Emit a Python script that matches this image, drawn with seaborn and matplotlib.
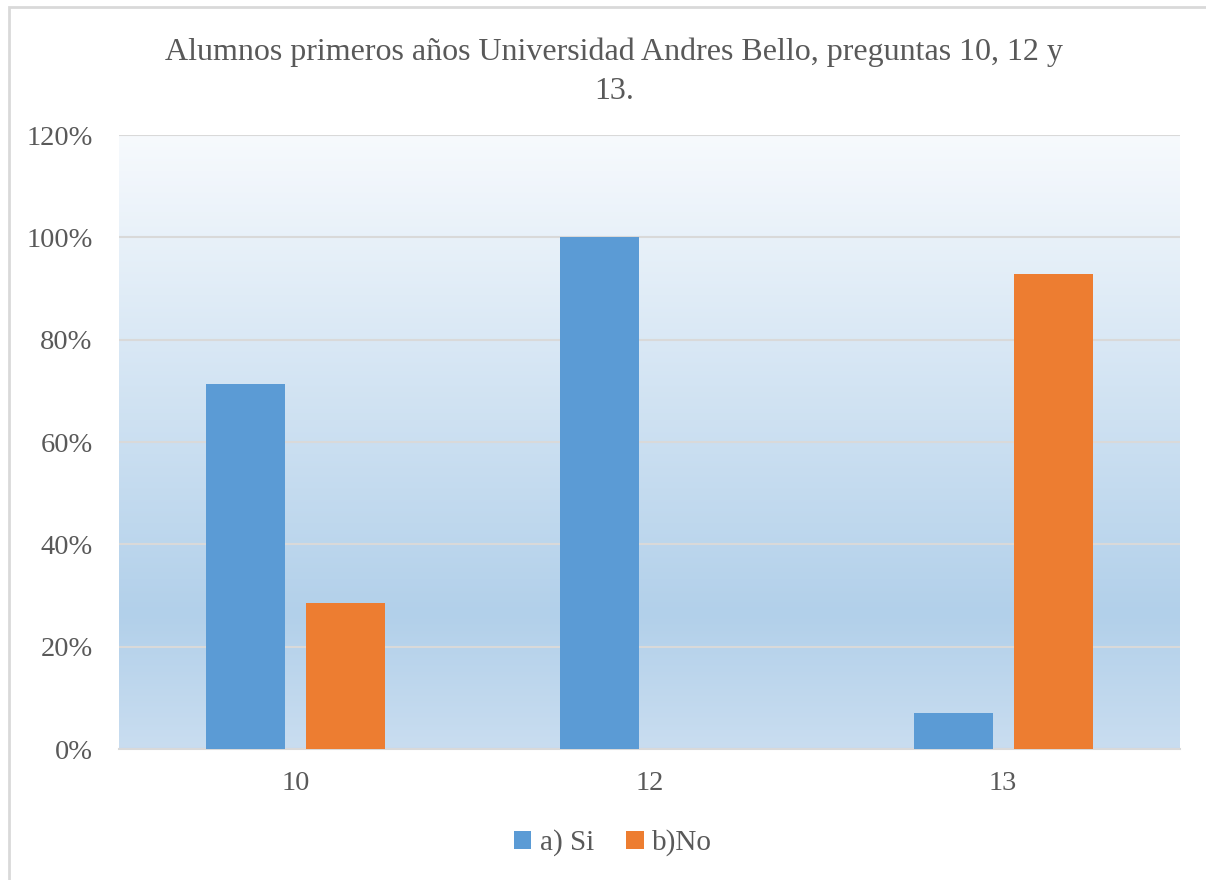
import numpy as np
import pandas as pd
import matplotlib
matplotlib.use("Agg")
import matplotlib.pyplot as plt
from matplotlib.colors import LinearSegmentedColormap
from matplotlib.ticker import PercentFormatter
import seaborn as sns

# data
preguntas = ["10", "12", "13"]
si = [71.4, 100.0, 7.1]
no = [28.6, 0.0, 92.9]
series = ["a) Si", "b)No"]
colores = ["#5B9BD5", "#ED7D31"]
titulo = "Alumnos primeros años Universidad Andres Bello, preguntas 10, 12 y\n13."

df = pd.DataFrame({
    "pregunta": preguntas * 2,
    "valor": si + no,
    "serie": [series[0]] * 3 + [series[1]] * 3,
})

sns.set_style("white")
plt.rcParams["font.family"] = ["Liberation Serif", "DejaVu Serif"]
texto = "#595959"

fig = plt.figure(figsize=(12.06, 8.8), dpi=100)
ax = fig.add_axes([119 / 1206, 1 - 749 / 880, (1180 - 119) / 1206, (749 - 135) / 880])

# gradient background like the Excel style
grad = LinearSegmentedColormap.from_list(
    "fondo", [(0.0, "#c9ddf0"), (0.22, "#b2d0ea"), (1.0, "#f7fafd")])
ax.imshow(np.linspace(0, 1, 256).reshape(-1, 1), cmap=grad, aspect="auto",
          extent=(-0.5, 2.5, 0, 120), origin="lower", zorder=0)

sns.barplot(data=df, x="pregunta", y="valor", hue="serie", palette=colores,
            width=0.566, gap=0.21, ax=ax, zorder=3, legend=True, saturation=1,
            linewidth=0)

ax.set_xlim(-0.5, 2.5)
ax.set_ylim(0, 120)
ax.set_yticks(np.arange(0, 121, 20))
ax.yaxis.set_major_formatter(PercentFormatter(decimals=0))
ax.grid(axis="y", color="#d9d9d9", linewidth=1.5, zorder=1)
for ln in ax.get_ygridlines():
    ln.set_zorder(1)
for s in ["left", "right", "top"]:
    ax.spines[s].set_visible(False)
ax.spines["bottom"].set_color("#d9d9d9")
ax.spines["bottom"].set_linewidth(1.5)
ax.set_xlabel("")
ax.set_ylabel("")
ax.tick_params(axis="both", length=0, labelsize=20.5, colors=texto)
ax.tick_params(axis="x", pad=16)
ax.tick_params(axis="y", pad=19)

handles, labels = ax.get_legend_handles_labels()
ax.get_legend().remove()
leg = fig.legend(handles, labels, loc="center", bbox_to_anchor=(613 / 1206, 1 - 843 / 880),
                 ncol=2, frameon=False, fontsize=21, handlelength=0.6,
                 handleheight=0.6, handletextpad=0.3, columnspacing=1.1)
for t in leg.get_texts():
    t.set_color(texto)

fig.text(614 / 1206, 1 - 72 / 880, titulo, ha="center", va="center",
         fontsize=23, color=texto, linespacing=1.45)

# light frame of the chart area
fig.add_artist(plt.Rectangle((9 / 1206, -0.1), 1.2, 1 - 7 / 880 + 0.1,
                             transform=fig.transFigure, fill=False,
                             edgecolor="#d9d9d9", linewidth=2))

fig.savefig("out.png", dpi=100)
